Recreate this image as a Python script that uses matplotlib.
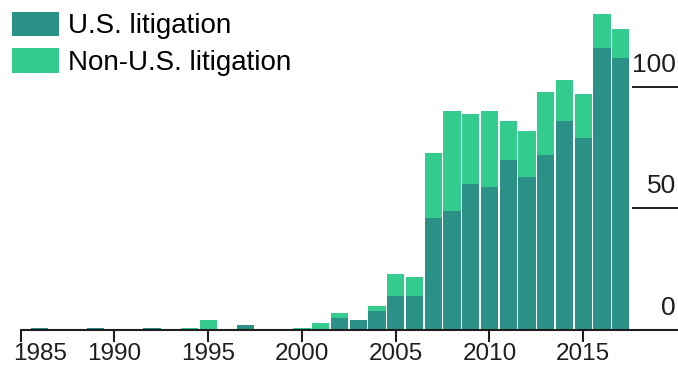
import numpy as np
import matplotlib
matplotlib.use("Agg")
import matplotlib.pyplot as plt
from matplotlib.transforms import ScaledTranslation

# =========================
# DATA
# =========================
years = list(range(1985, 2018))
us_cases = [0, 1, 0, 0, 1, 0, 0, 1, 0, 0, 0, 0, 2, 0, 0, 0, 0,
            5, 4, 8, 14, 14, 46, 49, 60, 59, 70, 63, 72, 86, 79, 116, 112]
non_us_cases = [0, 0, 0, 0, 0, 0, 0, 0, 0, 1, 4, 0, 0, 0, 0, 1, 3,
                2, 0, 2, 9, 8, 27, 41, 29, 31, 16, 19, 26, 17, 18, 14, 12]
x_ticks = [1985, 1990, 1995, 2000, 2005, 2010, 2015]
y_ticks = [0, 50, 100]

DARK = "#2b9186"
LIGHT = "#33cc8e"
INK = "#1e1e1e"

plt.rcParams["font.family"] = ["Liberation Sans", "DejaVu Sans"]

# =========================
# FIGURE
# =========================
fig = plt.figure(figsize=(6.78, 3.66), dpi=100)
ax = fig.add_axes([0.0305, 0.0984, 0.9695, 0.9016])

ax.bar(years, us_cases, width=0.92, color=DARK, label="U.S. litigation")
ax.bar(years, non_us_cases, width=0.92, bottom=us_cases, color=LIGHT,
       label="Non-U.S. litigation")

ax.set_xlim(1985, 2020.06)
ax.set_ylim(0, 135.8)

for side in ["left", "right", "top"]:
    ax.spines[side].set_visible(False)
ax.spines["bottom"].set_color(INK)
ax.spines["bottom"].set_linewidth(1.5)

ax.set_xticks(x_ticks)
ax.tick_params(axis="x", direction="out", length=8.5, width=1.5,
               color=INK, labelsize=17.5, pad=1, labelcolor=INK)
ax.set_yticks([])

# first year label is nudged right so it stays inside the picture
first = ax.get_xticklabels()[0]
first.set_transform(first.get_transform()
                    + ScaledTranslation(0.19, 0, fig.dpi_scale_trans))

# short gridlines with labels sitting above them on the right
for v in y_ticks:
    if v > 0:
        ax.axhline(v, xmin=0.931, xmax=1, color=INK, lw=1.4)
    ax.annotate(str(v), xy=(1, v), xycoords=("axes fraction", "data"),
                xytext=(-1.5, 16), textcoords="offset points",
                ha="right", va="center", fontsize=19, color=INK)

ax.legend(loc="upper left", bbox_to_anchor=(11.7 / 678, 1 - 11.5 / 366),
          bbox_transform=fig.transFigure, frameon=False, fontsize=20,
          handlelength=1.69, handleheight=1.0, handletextpad=0.35,
          labelspacing=0.32, borderpad=0, borderaxespad=0)

plt.savefig("out.png", dpi=100)
